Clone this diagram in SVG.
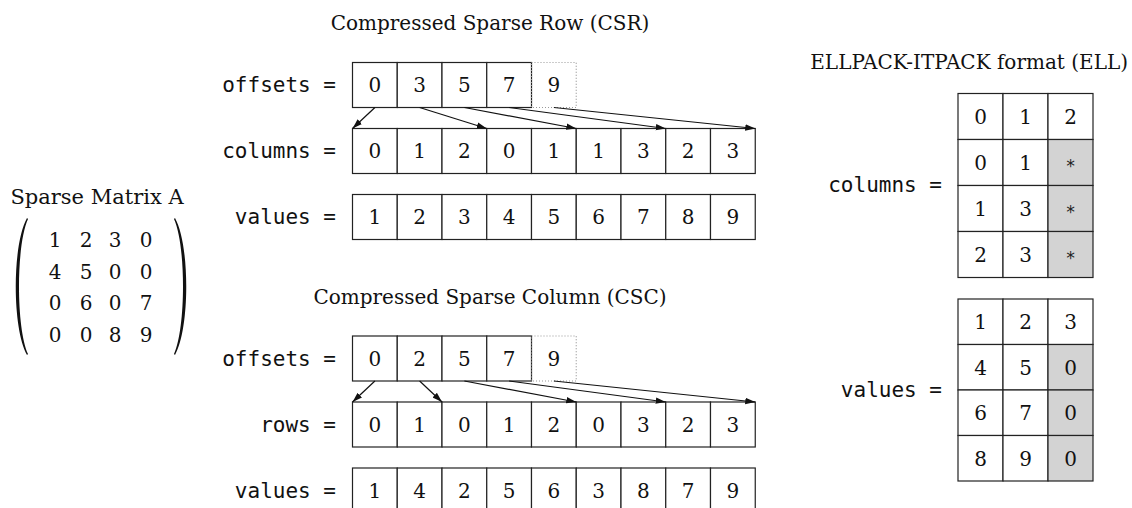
<svg xmlns="http://www.w3.org/2000/svg" width="1132" height="508" viewBox="0 0 1132 508">
  <style>
    .title { font-family: "DejaVu Serif", serif; font-size: 20px; fill: #111; }
    .lbl { font-family: "DejaVu Sans Mono", monospace; font-size: 21px; fill: #111; text-anchor: end; }
    .num { font-family: "DejaVu Serif", serif; font-size: 20px; fill: #111; text-anchor: middle; }
    .ast { font-family: "DejaVu Sans Mono", monospace; font-size: 17px; fill: #222; text-anchor: middle; }
    .cell { fill: #fff; stroke: #222; stroke-width: 1.2; }
    .pad { fill: #d3d3d3; stroke: #222; stroke-width: 1.2; }
    .dot { fill: none; stroke: #999; stroke-width: 1.2; stroke-dasharray: 1 2; }
    .arr { stroke: #111; stroke-width: 1.2; fill: none; marker-end: url(#head); }
  </style>
  <defs>
    <marker id="head" markerUnits="userSpaceOnUse" markerWidth="10" markerHeight="8" refX="10" refY="4" orient="auto">
      <path d="M0,0.8 L10,4 L0,7.2 Z" fill="#111"/>
    </marker>
  </defs>
  <rect width="1132" height="508" fill="#fff"/>

  <!-- Sparse matrix A -->
  <g id="matrix">
    <text class="title" x="97" y="204" text-anchor="middle" style="font-size:21px">Sparse Matrix A</text>
    <path d="M27,218 C12,245 12,328 27,355 L28,354 C16,328 16,245 28,219 Z" fill="#111"/>
    <path d="M175,218 C190,245 190,328 175,355 L174,354 C186,328 186,245 174,219 Z" fill="#111"/>
    <g class="num">
      <text x="55" y="247">1</text><text x="86" y="247">2</text><text x="115" y="247">3</text><text x="146" y="247">0</text>
      <text x="55" y="279">4</text><text x="86" y="279">5</text><text x="115" y="279">0</text><text x="146" y="279">0</text>
      <text x="55" y="310">0</text><text x="86" y="310">6</text><text x="115" y="310">0</text><text x="146" y="310">7</text>
      <text x="55" y="342">0</text><text x="86" y="342">0</text><text x="115" y="342">8</text><text x="146" y="342">9</text>
    </g>
  </g>

  <!-- CSR -->
  <g id="csr">
    <text class="title" x="490" y="30" text-anchor="middle">Compressed Sparse Row (CSR)</text>

    <g id="csr-offsets">
      <text class="lbl" x="336" y="92">offsets =</text>
      <rect class="cell" x="352.5" y="62.5" width="44.75" height="45"/>
      <rect class="cell" x="397.25" y="62.5" width="44.75" height="45"/>
      <rect class="cell" x="442" y="62.5" width="44.75" height="45"/>
      <rect class="cell" x="486.75" y="62.5" width="44.75" height="45"/>
      <rect class="dot" x="531.5" y="62.5" width="44.75" height="45"/>
      <g class="num">
        <text x="374.9" y="92">0</text><text x="419.6" y="92">3</text><text x="464.4" y="92">5</text><text x="509.1" y="92">7</text><text x="553.9" y="92">9</text>
      </g>
    </g>

    <g id="csr-columns">
      <text class="lbl" x="336" y="158">columns =</text>
      <g transform="translate(352.5,128.5)">
        <rect class="cell" x="0" y="0" width="44.75" height="45"/>
        <rect class="cell" x="44.75" y="0" width="44.75" height="45"/>
        <rect class="cell" x="89.5" y="0" width="44.75" height="45"/>
        <rect class="cell" x="134.25" y="0" width="44.75" height="45"/>
        <rect class="cell" x="179" y="0" width="44.75" height="45"/>
        <rect class="cell" x="223.75" y="0" width="44.75" height="45"/>
        <rect class="cell" x="268.5" y="0" width="44.75" height="45"/>
        <rect class="cell" x="313.25" y="0" width="44.75" height="45"/>
        <rect class="cell" x="358" y="0" width="44.75" height="45"/>
        <g class="num">
          <text x="22.4" y="29.5">0</text><text x="67.1" y="29.5">1</text><text x="111.9" y="29.5">2</text><text x="156.6" y="29.5">0</text><text x="201.4" y="29.5">1</text><text x="246.1" y="29.5">1</text><text x="290.9" y="29.5">3</text><text x="335.6" y="29.5">2</text><text x="380.4" y="29.5">3</text>
        </g>
      </g>
    </g>

    <g id="csr-values">
      <text class="lbl" x="336" y="224">values =</text>
      <g transform="translate(352.5,194.5)">
        <rect class="cell" x="0" y="0" width="44.75" height="45"/>
        <rect class="cell" x="44.75" y="0" width="44.75" height="45"/>
        <rect class="cell" x="89.5" y="0" width="44.75" height="45"/>
        <rect class="cell" x="134.25" y="0" width="44.75" height="45"/>
        <rect class="cell" x="179" y="0" width="44.75" height="45"/>
        <rect class="cell" x="223.75" y="0" width="44.75" height="45"/>
        <rect class="cell" x="268.5" y="0" width="44.75" height="45"/>
        <rect class="cell" x="313.25" y="0" width="44.75" height="45"/>
        <rect class="cell" x="358" y="0" width="44.75" height="45"/>
        <g class="num">
          <text x="22.4" y="29.5">1</text><text x="67.1" y="29.5">2</text><text x="111.9" y="29.5">3</text><text x="156.6" y="29.5">4</text><text x="201.4" y="29.5">5</text><text x="246.1" y="29.5">6</text><text x="290.9" y="29.5">7</text><text x="335.6" y="29.5">8</text><text x="380.4" y="29.5">9</text>
        </g>
      </g>
    </g>
  </g>

  <!-- CSC -->
  <g id="csc">
    <text class="title" x="490" y="304" text-anchor="middle">Compressed Sparse Column (CSC)</text>

    <g id="csc-offsets">
      <text class="lbl" x="336" y="366">offsets =</text>
      <rect class="cell" x="352.5" y="336" width="44.75" height="45"/>
      <rect class="cell" x="397.25" y="336" width="44.75" height="45"/>
      <rect class="cell" x="442" y="336" width="44.75" height="45"/>
      <rect class="cell" x="486.75" y="336" width="44.75" height="45"/>
      <rect class="dot" x="531.5" y="336" width="44.75" height="45"/>
      <g class="num">
        <text x="374.9" y="365.5">0</text><text x="419.6" y="365.5">2</text><text x="464.4" y="365.5">5</text><text x="509.1" y="365.5">7</text><text x="553.9" y="365.5">9</text>
      </g>
    </g>

    <g id="csc-rows">
      <text class="lbl" x="336" y="432">rows =</text>
      <g transform="translate(352.5,402)">
        <rect class="cell" x="0" y="0" width="44.75" height="45"/>
        <rect class="cell" x="44.75" y="0" width="44.75" height="45"/>
        <rect class="cell" x="89.5" y="0" width="44.75" height="45"/>
        <rect class="cell" x="134.25" y="0" width="44.75" height="45"/>
        <rect class="cell" x="179" y="0" width="44.75" height="45"/>
        <rect class="cell" x="223.75" y="0" width="44.75" height="45"/>
        <rect class="cell" x="268.5" y="0" width="44.75" height="45"/>
        <rect class="cell" x="313.25" y="0" width="44.75" height="45"/>
        <rect class="cell" x="358" y="0" width="44.75" height="45"/>
        <g class="num">
          <text x="22.4" y="29.5">0</text><text x="67.1" y="29.5">1</text><text x="111.9" y="29.5">0</text><text x="156.6" y="29.5">1</text><text x="201.4" y="29.5">2</text><text x="246.1" y="29.5">0</text><text x="290.9" y="29.5">3</text><text x="335.6" y="29.5">2</text><text x="380.4" y="29.5">3</text>
        </g>
      </g>
    </g>

    <g id="csc-values">
      <text class="lbl" x="336" y="498">values =</text>
      <g transform="translate(352.5,468)">
        <rect class="cell" x="0" y="0" width="44.75" height="45"/>
        <rect class="cell" x="44.75" y="0" width="44.75" height="45"/>
        <rect class="cell" x="89.5" y="0" width="44.75" height="45"/>
        <rect class="cell" x="134.25" y="0" width="44.75" height="45"/>
        <rect class="cell" x="179" y="0" width="44.75" height="45"/>
        <rect class="cell" x="223.75" y="0" width="44.75" height="45"/>
        <rect class="cell" x="268.5" y="0" width="44.75" height="45"/>
        <rect class="cell" x="313.25" y="0" width="44.75" height="45"/>
        <rect class="cell" x="358" y="0" width="44.75" height="45"/>
        <g class="num">
          <text x="22.4" y="29.5">1</text><text x="67.1" y="29.5">4</text><text x="111.9" y="29.5">2</text><text x="156.6" y="29.5">5</text><text x="201.4" y="29.5">6</text><text x="246.1" y="29.5">3</text><text x="290.9" y="29.5">8</text><text x="335.6" y="29.5">7</text><text x="380.4" y="29.5">9</text>
        </g>
      </g>
    </g>
  </g>

  <!-- Connectors: offsets point at the first entry of each row / column -->
  <g id="connectors">
    <line class="arr" x1="374.9" y1="107.5" x2="352.5" y2="128.5"/>
    <line class="arr" x1="419.6" y1="107.5" x2="486.75" y2="128.5"/>
    <line class="arr" x1="464.4" y1="107.5" x2="576.25" y2="128.5"/>
    <line class="arr" x1="509.1" y1="107.5" x2="665.75" y2="128.5"/>
    <line class="arr" x1="553.9" y1="107.5" x2="755.25" y2="128.5"/>

    <line class="arr" x1="374.9" y1="381" x2="352.5" y2="402"/>
    <line class="arr" x1="419.6" y1="381" x2="442" y2="402"/>
    <line class="arr" x1="464.4" y1="381" x2="576.25" y2="402"/>
    <line class="arr" x1="509.1" y1="381" x2="665.75" y2="402"/>
    <line class="arr" x1="553.9" y1="381" x2="755.25" y2="402"/>
  </g>

  <!-- ELL -->
  <g id="ell">
    <text class="title" x="1128" y="69" text-anchor="end">ELLPACK-ITPACK format (ELL)</text>

    <g id="ell-columns">
      <text class="lbl" x="942" y="192">columns =</text>
      <g transform="translate(958,93.5)">
        <rect class="cell" x="0" y="0" width="45" height="46"/>
        <rect class="cell" x="45" y="0" width="45" height="46"/>
        <rect class="cell" x="90" y="0" width="45" height="46"/>
        <rect class="cell" x="0" y="46" width="45" height="46"/>
        <rect class="cell" x="45" y="46" width="45" height="46"/>
        <rect class="pad" x="90" y="46" width="45" height="46"/>
        <rect class="cell" x="0" y="92" width="45" height="46"/>
        <rect class="cell" x="45" y="92" width="45" height="46"/>
        <rect class="pad" x="90" y="92" width="45" height="46"/>
        <rect class="cell" x="0" y="138" width="45" height="46"/>
        <rect class="cell" x="45" y="138" width="45" height="46"/>
        <rect class="pad" x="90" y="138" width="45" height="46"/>
        <g class="num">
          <text x="22.5" y="30">0</text><text x="67.5" y="30">1</text><text x="112.5" y="30">2</text>
          <text x="22.5" y="76">0</text><text x="67.5" y="76">1</text>
          <text x="22.5" y="122">1</text><text x="67.5" y="122">3</text>
          <text x="22.5" y="168">2</text><text x="67.5" y="168">3</text>
        </g>
        <g class="ast">
          <text x="112.5" y="78">*</text><text x="112.5" y="124">*</text><text x="112.5" y="170">*</text>
        </g>
      </g>
    </g>

    <g id="ell-values">
      <text class="lbl" x="942" y="397">values =</text>
      <g transform="translate(958,299)">
        <rect class="cell" x="0" y="0" width="45" height="45.5"/>
        <rect class="cell" x="45" y="0" width="45" height="45.5"/>
        <rect class="cell" x="90" y="0" width="45" height="45.5"/>
        <rect class="cell" x="0" y="45.5" width="45" height="45.5"/>
        <rect class="cell" x="45" y="45.5" width="45" height="45.5"/>
        <rect class="pad" x="90" y="45.5" width="45" height="45.5"/>
        <rect class="cell" x="0" y="91" width="45" height="45.5"/>
        <rect class="cell" x="45" y="91" width="45" height="45.5"/>
        <rect class="pad" x="90" y="91" width="45" height="45.5"/>
        <rect class="cell" x="0" y="136.5" width="45" height="45.5"/>
        <rect class="cell" x="45" y="136.5" width="45" height="45.5"/>
        <rect class="pad" x="90" y="136.5" width="45" height="45.5"/>
        <g class="num">
          <text x="22.5" y="30">1</text><text x="67.5" y="30">2</text><text x="112.5" y="30">3</text>
          <text x="22.5" y="75.5">4</text><text x="67.5" y="75.5">5</text><text x="112.5" y="75.5">0</text>
          <text x="22.5" y="121">6</text><text x="67.5" y="121">7</text><text x="112.5" y="121">0</text>
          <text x="22.5" y="166.5">8</text><text x="67.5" y="166.5">9</text><text x="112.5" y="166.5">0</text>
        </g>
      </g>
    </g>
  </g>
</svg>
